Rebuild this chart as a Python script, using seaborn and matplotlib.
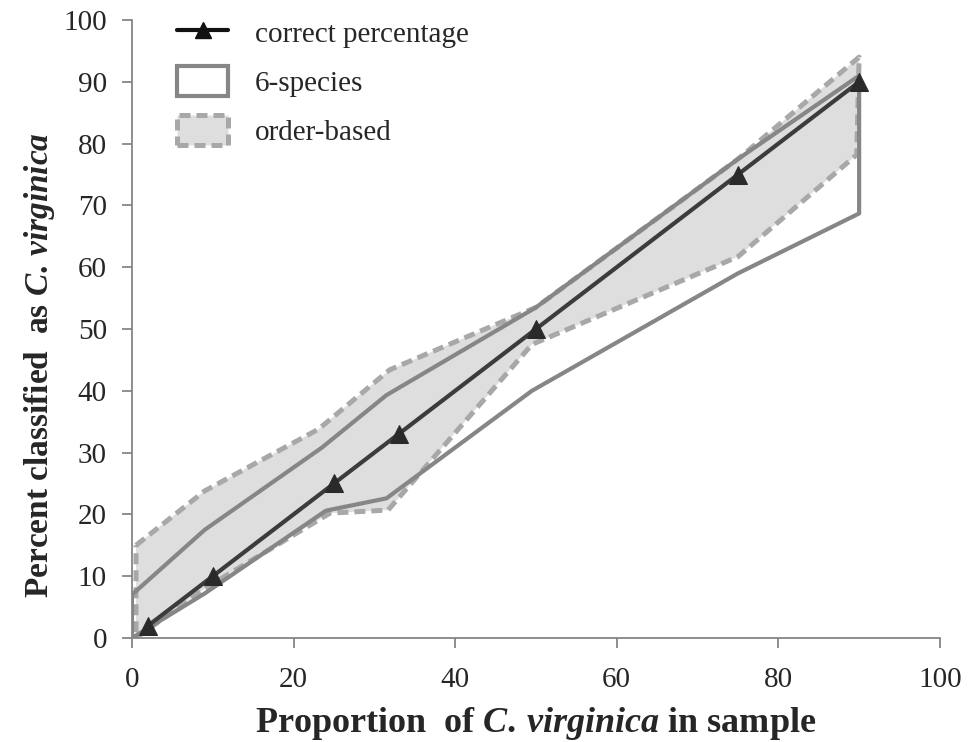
import matplotlib
matplotlib.use("Agg")
import matplotlib.pyplot as plt
from matplotlib.patches import Polygon, Patch
from matplotlib.lines import Line2D
import seaborn as sns
import pandas as pd

# Correct percentage (true proportion of C. virginica)
true_x = [2, 10, 25, 33, 50, 75, 90]
true_y = [2, 10, 25, 33, 50, 75, 90]

# 6-species classifier: range envelope (upper then lower edge)
six_upper_x = [0, 9, 23.5, 31.5, 50, 75, 90]
six_upper_y = [7, 17.5, 30.8, 39.3, 53.5, 77.5, 91]
six_lower_x = [90, 75, 49.5, 31.5, 24, 9, 0]
six_lower_y = [68.7, 59, 40, 22.6, 20.6, 7.2, 0]

# Order-based classifier: range envelope (upper then lower edge)
ord_upper_x = [0.5, 9, 23.1, 31.9, 50, 75, 90]
ord_upper_y = [15, 23.8, 33.8, 43.4, 53.5, 77.5, 94]
ord_lower_x = [89.7, 75, 49.5, 31.7, 24.5, 9, 0.5]
ord_lower_y = [78.2, 61.7, 47.5, 20.7, 20.2, 8, 0]

x_ticks = [0, 20, 40, 60, 80, 100]
y_ticks = [0, 10, 20, 30, 40, 50, 60, 70, 80, 90, 100]

sns.set_theme(style="white")
plt.rcParams["font.family"] = ["Liberation Serif", "DejaVu Serif"]
plt.rcParams["mathtext.fontset"] = "custom"
plt.rcParams["mathtext.rm"] = "Liberation Serif:bold"
plt.rcParams["mathtext.it"] = "Liberation Serif:italic:bold"
plt.rcParams["mathtext.bf"] = "Liberation Serif:bold"

fig = plt.figure(figsize=(9.69, 7.42), dpi=100)
ax = fig.add_axes([0.1362, 0.1402, 0.8338, 0.8328])

grey_line = "#868686"
dash_col = "#a8a8a8"
fill_col = "#dedede"

ord_poly = Polygon(list(zip(ord_upper_x + ord_lower_x, ord_upper_y + ord_lower_y)),
                   closed=True, facecolor=fill_col, edgecolor=dash_col,
                   linewidth=3.6, linestyle=(0, (2.2, 1.2)), joinstyle="round", zorder=2)
ax.add_patch(ord_poly)

six_poly = Polygon(list(zip(six_upper_x + six_lower_x, six_upper_y + six_lower_y)),
                   closed=True, facecolor="none", edgecolor=grey_line,
                   linewidth=3.0, joinstyle="round", zorder=3)
ax.add_patch(six_poly)

df = pd.DataFrame({"x": true_x, "y": true_y})
sns.lineplot(data=df, x="x", y="y", ax=ax, color="#3c3c3c", linewidth=3.0,
             marker="^", markersize=13, markerfacecolor="#2a2a2a",
             markeredgecolor="#2a2a2a", zorder=4)

ax.set_xlim(0, 100)
ax.set_ylim(0, 100)
ax.set_xticks(x_ticks)
ax.set_yticks(y_ticks)
ax.tick_params(axis="both", which="major", direction="out", length=7, width=1.3,
               color="#868686", labelsize=21, left=True, bottom=True)
ax.tick_params(axis="y", pad=11)
ax.tick_params(axis="x", pad=14)
for s in ["top", "right"]:
    ax.spines[s].set_visible(False)
for s in ["left", "bottom"]:
    ax.spines[s].set_color("#868686")
    ax.spines[s].set_linewidth(1.3)

ax.set_xlabel(r"Proportion  of $C.\,virginica$ in sample", fontsize=26,
              fontweight="bold")
ax.set_ylabel(r"Percent classified  as $C.\,virginica$", fontsize=24,
              fontweight="bold")
ax.xaxis.set_label_coords(0.5, -0.108)
ax.yaxis.set_label_coords(-0.093, 0.442)

handles = [
    Line2D([0], [0], color="#111111", linewidth=3.0, marker="^", markersize=11,
           markerfacecolor="#111111"),
    Patch(facecolor="white", edgecolor=grey_line, linewidth=3.0),
    Patch(facecolor=fill_col, edgecolor=dash_col, linewidth=3.6, linestyle=(0, (2.2, 1.2))),
]
labels = ["correct percentage", "6-species", "order-based"]
ax.legend(handles, labels, loc="upper left", bbox_to_anchor=(0.0557, 1.004),
          frameon=False, fontsize=21, handlelength=1.75, handleheight=1.2,
          labelspacing=0.62, handletextpad=0.92, borderpad=0, borderaxespad=0)

fig.savefig("out.png", dpi=100)
